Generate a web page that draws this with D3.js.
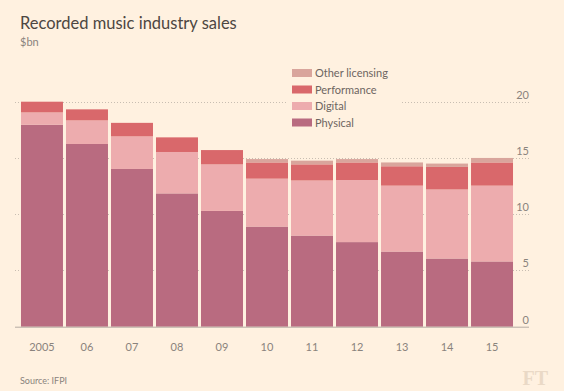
<!DOCTYPE html>
<head>
    <meta charset="utf-8">
    <title>Recorded music industry sales</title>
</head>
<style>
    body { margin: 0; background: #fff1e0; }
    svg { display: block; font-family: Lato, "Open Sans", sans-serif; }
    .grid line { stroke: #c8beb2; stroke-width: 1px; stroke-dasharray: 1,2; }
    .ylab { fill: #8a837d; font-size: 11px; }
    .xlab { fill: #8a837d; font-size: 11px; }
</style>
<body>
<script src="https://d3js.org/d3.v7.min.js"></script>
<script>
    var width = 564,
        height = 391;

    var years = ["2005", "06", "07", "08", "09", "10", "11", "12", "13", "14", "15"];
    var physical = [17.95, 16.24, 14.02, 11.85, 10.29, 8.9, 8.1, 7.52, 6.68, 6.06, 5.8];
    var digital = [1.1, 2.1, 2.9, 3.68, 4.14, 4.26, 4.9, 5.52, 5.86, 6.14, 6.74];
    var performance = [0.95, 0.98, 1.2, 1.3, 1.27, 1.44, 1.43, 1.56, 1.72, 2.0, 2.06];
    var otherLicensing = [0, 0, 0, 0, 0, 0.3, 0.33, 0.3, 0.34, 0.3, 0.4];
    var yTicks = [0, 5, 10, 15, 20];

    var keys = ["Physical", "Digital", "Performance", "Other licensing"];
    var colours = ["#b96b80", "#edacae", "#d9686b", "#d9a59c"];

    var rows = years.map(function (y, i) {
        return { year: y, "Physical": physical[i], "Digital": digital[i],
                 "Performance": performance[i], "Other licensing": otherLicensing[i] };
    });

    var svg = d3.select("body").append("svg")
        .attr("width", width)
        .attr("height", height);

    var x = d3.scaleBand()
        .domain(years)
        .range([19.5, 514.5])
        .paddingInner(0.067)
        .paddingOuter(0.033);
    var y = d3.scaleLinear()
        .domain([0, 20])
        .range([326.7, 101.7]);

    // gridlines + labels on the right
    var grid = svg.append("g").attr("class", "grid");
    grid.selectAll("line")
        .data(yTicks.filter(function (d) { return d > 0; }))
        .enter().append("line")
        .attr("x1", 15).attr("x2", 529)
        .attr("y1", function (d) { return Math.round(y(d)) + 0.5; })
        .attr("y2", function (d) { return Math.round(y(d)) + 0.5; });

    var series = d3.stack().keys(keys)(rows);
    svg.append("g").selectAll("g")
        .data(series)
        .enter().append("g")
        .attr("fill", function (d, i) { return colours[i]; })
        .selectAll("rect")
        .data(function (d) { return d; })
        .enter().append("rect")
        .attr("x", function (d) { return x(d.data.year); })
        .attr("width", x.bandwidth())
        .attr("y", function (d) { return y(d[1]); })
        .attr("height", function (d) { return y(d[0]) - y(d[1]); });

    svg.append("line")
        .attr("x1", 15).attr("x2", 529)
        .attr("y1", y(0) + 0.5).attr("y2", y(0) + 0.5)
        .attr("stroke", "#b5aca2").attr("stroke-width", 1);

    svg.append("g").selectAll("text")
        .data(yTicks)
        .enter().append("text")
        .attr("class", "ylab")
        .attr("x", 529)
        .attr("y", function (d) { return y(d) - 3; })
        .attr("text-anchor", "end")
        .text(function (d) { return d; });

    svg.append("g").selectAll("text")
        .data(years)
        .enter().append("text")
        .attr("class", "xlab")
        .attr("x", function (d) { return x(d) + x.bandwidth() / 2; })
        .attr("y", 351)
        .attr("text-anchor", "middle")
        .text(function (d) { return d; });

    // legend
    var legend = svg.append("g");
    legend.append("rect")
        .attr("x", 288).attr("y", 64).attr("width", 112).attr("height", 66)
        .attr("fill", "#fff1e0");
    var legendKeys = keys.slice().reverse();
    var legendCols = colours.slice().reverse();
    legendKeys.forEach(function (k, i) {
        var cy = 73 + i * 16.5;
        legend.append("rect")
            .attr("x", 292).attr("y", cy - 4).attr("width", 20).attr("height", 8)
            .attr("fill", legendCols[i]);
        legend.append("text")
            .attr("x", 315).attr("y", cy + 4)
            .attr("fill", "#6d6560").attr("font-size", "11px")
            .text(k);
    });

    svg.append("text")
        .attr("x", 20).attr("y", 29)
        .attr("fill", "#4d4642").attr("font-size", "16.5px")
        .text("Recorded music industry sales");
    svg.append("text")
        .attr("x", 20).attr("y", 46)
        .attr("fill", "#8a837d").attr("font-size", "11px")
        .text("$bn");
    svg.append("text")
        .attr("x", 20).attr("y", 384)
        .attr("fill", "#8a837d").attr("font-size", "9px")
        .text("Source: IFPI");
    svg.append("text")
        .attr("x", 548).attr("y", 385)
        .attr("text-anchor", "end")
        .attr("fill", "#ead9c6").attr("font-size", "20px")
        .attr("font-family", "'Liberation Serif', serif")
        .attr("font-weight", "bold")
        .text("FT");
</script>
</body>
